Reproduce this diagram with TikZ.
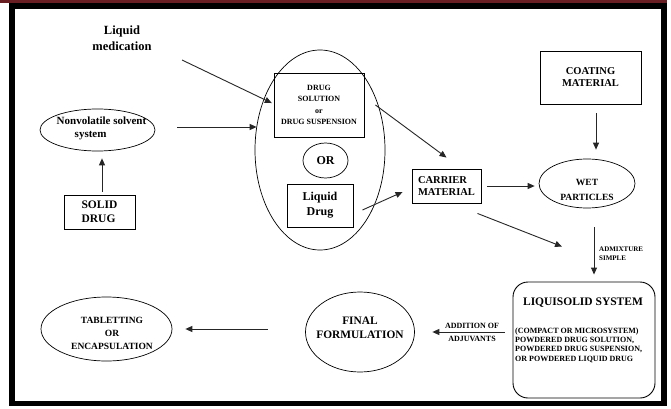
\documentclass[tikz,border=0pt]{standalone}
\usepackage{fontspec}
\setmainfont{Liberation Serif}
\usetikzlibrary{shapes.geometric,arrows.meta}
\definecolor{bandred}{RGB}{104,30,34}
\newcommand{\myfs}[2]{\fontsize{#1}{#2}\selectfont}
\begin{document}
\begin{tikzpicture}[x=1pt,y=-1pt,
  box/.style={draw,line width=0.9pt,inner sep=0pt,align=center,font=\bfseries},
  ell/.style={ellipse,draw,line width=0.7pt,inner sep=0pt},
  txt/.style={inner sep=0pt,align=center,font=\bfseries},
  arr/.style={line width=0.9pt,black!85,-{Triangle[length=7pt,width=6pt]}},
]
\useasboundingbox (0,0) rectangle (671,409);
\fill[white] (0,0) rectangle (671,409);
\fill[bandred] (0,0) rectangle (667,3);
\draw[line width=5.8pt] (11.7,5.8) rectangle (664,403.5);

% nodes
\node[txt,font=\bfseries\myfs{12.5}{16}] (liqmed) at (122,38) {Liquid\\medication};
\node[ell,minimum width=130pt,minimum height=200pt] (big) at (320,150) {};
\node[box,minimum width=90pt,minimum height=64pt,font=\bfseries\myfs{8}{11.3}] (dsol) at (319,105) {DRUG\\SOLUTION\\or\\DRUG SUSPENSION};
\node[ell,minimum width=45pt,minimum height=35pt] (orell) at (325.5,160.5) {};
\node[txt,font=\bfseries\myfs{12}{14}] (ortxt) at (orell) {OR};
\node[box,minimum width=66pt,minimum height=43pt,font=\bfseries\myfs{12}{15}] (ldrug) at (320,205.5) {Liquid\\Drug};
\node[box,align=left,minimum width=69pt,minimum height=34pt,font=\bfseries\myfs{10.5}{12}] (carrier) at (446.5,186) {CARRIER\\MATERIAL};
\node[ell,minimum width=115pt,minimum height=42pt] (nonvol) at (97.5,130) {};
\node[txt,align=left,font=\bfseries\myfs{11}{13}] (nvtxt) at (101.5,128.5) {Nonvolatile solvent\\\hspace*{18pt}system};
\node[box,align=left,minimum width=71pt,minimum height=34pt,font=\bfseries\myfs{11.5}{14}] (solid) at (99.5,212) {SOLID\\DRUG};
\node[box,minimum width=101pt,minimum height=53pt,font=\bfseries\myfs{10.5}{12}] (coat) at (590.5,77.5) {COATING\\MATERIAL};
\node[ell,minimum width=96pt,minimum height=49pt] (wet) at (587,183.5) {};
\node[txt,font=\bfseries\myfs{9.5}{15}] (wettxt) at (587,190) {WET\\PARTICLES};
\node[draw,line width=0.9pt,rounded corners=15pt,minimum width=142pt,minimum height=116pt] (liqs) at (584,340) {};
\node[txt,font=\bfseries\myfs{11.5}{14}] (lstitle) at (583,303) {LIQUISOLID SYSTEM};
\node[txt,align=left,anchor=west,font=\bfseries\myfs{8}{9.3}] (lslist) at (515,345) {(COMPACT OR MICROSYSTEM)\\POWDERED DRUG SOLUTION,\\POWDERED DRUG SUSPENSION,\\OR POWDERED LIQUID DRUG};
\node[ell,minimum width=109pt,minimum height=80pt] (final) at (360,332) {};
\node[txt,font=\bfseries\myfs{11.4}{14}] (fintxt) at (360,328) {FINAL\\FORMULATION};
\node[ell,minimum width=131pt,minimum height=64pt] (tab) at (106.5,329) {};
\node[txt,font=\bfseries\myfs{9.5}{13}] (tabtxt) at (112,333) {TABLETTING\\OR\\ENCAPSULATION};
\node[txt,align=left,anchor=west,font=\bfseries\myfs{7}{9}] (admix) at (599,254) {ADMIXTURE\\SIMPLE};
\node[txt,font=\bfseries\myfs{8}{12.5}] (addj) at (472,332.5) {ADDITION OF\\ADJUVANTS};

% connectors
\draw[arr] ([xshift=60pt,yshift=-22pt]liqmed.center) -- ([xshift=-2pt,yshift=-24pt]big.north west);
\draw[arr] ([xshift=22pt,yshift=3pt]nonvol.east) -- ([xshift=2pt,yshift=23pt]big.west);
\draw[arr] ([xshift=2.5pt,yshift=3pt]solid.north) -- ([xshift=4.5pt,yshift=-7pt]nonvol.south);
\draw[arr] ([xshift=11pt]dsol.east) -- ([yshift=11pt]carrier.north);
\draw[arr] ([xshift=9pt,yshift=-4.5pt]ldrug.east) -- ([xshift=-9pt,yshift=-6pt]carrier.west);
\draw[arr,shorten <=6pt,shorten >=4pt] (carrier.east) -- (carrier.east -| wet.west);
\draw[arr,shorten <=9pt,shorten >=9pt] ([xshift=5.5pt]coat.south) -- ([xshift=5.5pt]coat.south |- wet.north);
\draw[arr] ([xshift=-4pt,yshift=-10pt]carrier.south east) -- ([xshift=-22pt,yshift=35pt]liqs.north);
\draw[arr,shorten <=19pt,shorten >=7pt] ([xshift=7pt]wet.south) -- ([xshift=7pt]wet.south |- liqs.north);
\draw[arr,shorten <=8pt,shorten >=17.5pt] (liqs.west |- final.east) -- (final.east);
\draw[arr,shorten <=37.5pt,shorten >=13pt] (final.west |- tab.east) -- (tab.east);
\end{tikzpicture}
\end{document}
